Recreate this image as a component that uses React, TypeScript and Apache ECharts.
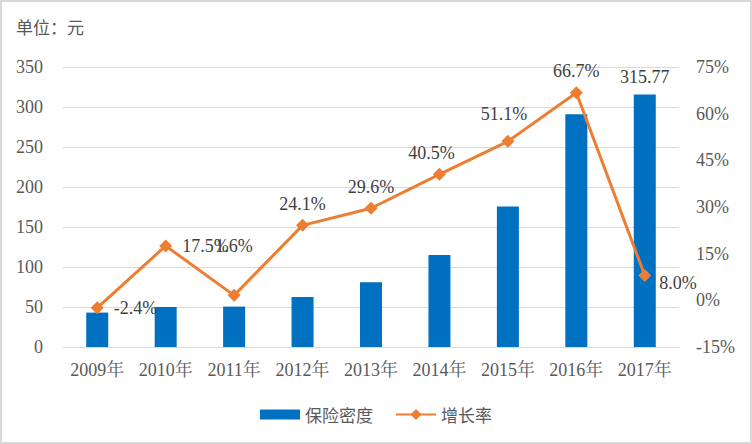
import React, { useEffect, useRef } from "react";
import * as echarts from "echarts";

const categories = ["2009年", "2010年", "2011年", "2012年", "2013年", "2014年", "2015年", "2016年", "2017年"];
const densityValues = [43, 50, 50.5, 62.5, 81, 115, 175.5, 291, 315.77];
const growthValues = [-2.4, 17.5, 1.6, 24.1, 29.6, 40.5, 51.1, 66.7, 8.0];
const growthLabels = ["-2.4%", "17.5%", "1.6%", "24.1%", "29.6%", "40.5%", "51.1%", "66.7%", "8.0%"];
const barLabelIndex = 8;

const SERIF = "Liberation Serif, Times New Roman, Noto Serif CJK SC, Noto Sans CJK SC, serif";
const CJK = "Noto Sans CJK SC, sans-serif";
const BAR_COLOR = "#0070C0";
const LINE_COLOR = "#ED7D31";

export default function App() {
  const ref = useRef<HTMLDivElement>(null);
  useEffect(() => {
    document.body.style.margin = "0";
    const chart = echarts.init(ref.current!, null, { renderer: "svg" });
    const lineData = growthValues.map((v, i) => {
      const item: any = { value: v };
      if (i === 0 || i === 1) {
        item.label = { position: "right", distance: 10 };
      } else if (i === 8) {
        item.label = { position: "right", distance: 8, offset: [0, 8] };
      } else if (i === 2) {
        item.label = { position: "top", offset: [0, -28] };
      } else if (i === 5) {
        item.label = { position: "top", offset: [-8, 0] };
      } else if (i === 6) {
        item.label = { position: "top", offset: [-4, -6] };
      }
      return item;
    });
    const barData = densityValues.map((v, i) => {
      const item: any = { value: v };
      if (i === barLabelIndex) {
        item.label = {
          show: true,
          position: "top",
          distance: 8,
          formatter: String(v),
          color: "#404040",
          fontFamily: SERIF,
          fontSize: 18,
        };
      }
      return item;
    });
    chart.setOption({
      animation: false,
      backgroundColor: "#ffffff",
      textStyle: { fontFamily: SERIF },
      graphic: [
        {
          type: "rect",
          shape: { x: 1, y: 1, width: 750, height: 442 },
          style: { fill: "none", stroke: "#d9d9d9", lineWidth: 2 },
          silent: true,
        },
        {
          type: "text",
          left: 16,
          top: 18,
          style: {
            text: "单位：元",
            fill: "#595959",
            fontSize: 17,
            fontFamily: CJK,
          },
        },
      ],
      grid: { left: 63, right: 73, top: 67, bottom: 97, containLabel: false },
      legend: {
        bottom: 16,
        left: "center",
        itemGap: 22,
        itemWidth: 40,
        itemHeight: 14,
        textStyle: {
          color: "#595959",
          fontSize: 17,
          fontFamily: CJK,
        },
        data: [
          { name: "保险密度", icon: "path://M0,0H40V10H0Z" },
          { name: "增长率" },
        ],
      },
      xAxis: {
        type: "category",
        data: categories,
        axisLine: { lineStyle: { color: "#d9d9d9", width: 1 } },
        axisTick: { show: false },
        axisLabel: {
          interval: 0,
          color: "#595959",
          fontSize: 18,
          margin: 14,
          fontFamily: SERIF,
        },
      },
      yAxis: [
        {
          type: "value",
          min: 0,
          max: 350,
          interval: 50,
          axisLine: { show: false },
          axisTick: { show: false },
          splitLine: { lineStyle: { color: "#d9d9d9", width: 1 } },
          axisLabel: { color: "#595959", fontSize: 18, margin: 20, fontFamily: SERIF },
        },
        {
          type: "value",
          min: -15,
          max: 75,
          interval: 15,
          axisLine: { show: false },
          axisTick: { show: false },
          splitLine: { show: false },
          axisLabel: {
            color: "#595959",
            fontSize: 18,
            margin: 17,
            fontFamily: SERIF,
            formatter: "{value}%",
          },
        },
      ],
      series: [
        {
          name: "保险密度",
          type: "bar",
          data: barData,
          barWidth: 22,
          itemStyle: { color: BAR_COLOR },
          z: 2,
        },
        {
          name: "增长率",
          type: "line",
          yAxisIndex: 1,
          data: lineData,
          symbol: "diamond",
          symbolSize: 13,
          lineStyle: { color: LINE_COLOR, width: 3 },
          itemStyle: { color: LINE_COLOR },
          z: 3,
          label: {
            show: true,
            position: "top",
            distance: 6,
            color: "#404040",
            fontSize: 18,
            fontFamily: SERIF,
            formatter: (p: any) => growthLabels[p.dataIndex],
          },
        },
      ],
    });
    return () => chart.dispose();
  }, []);
  return <div ref={ref} style={{ width: 752, height: 444 }} />;
}
